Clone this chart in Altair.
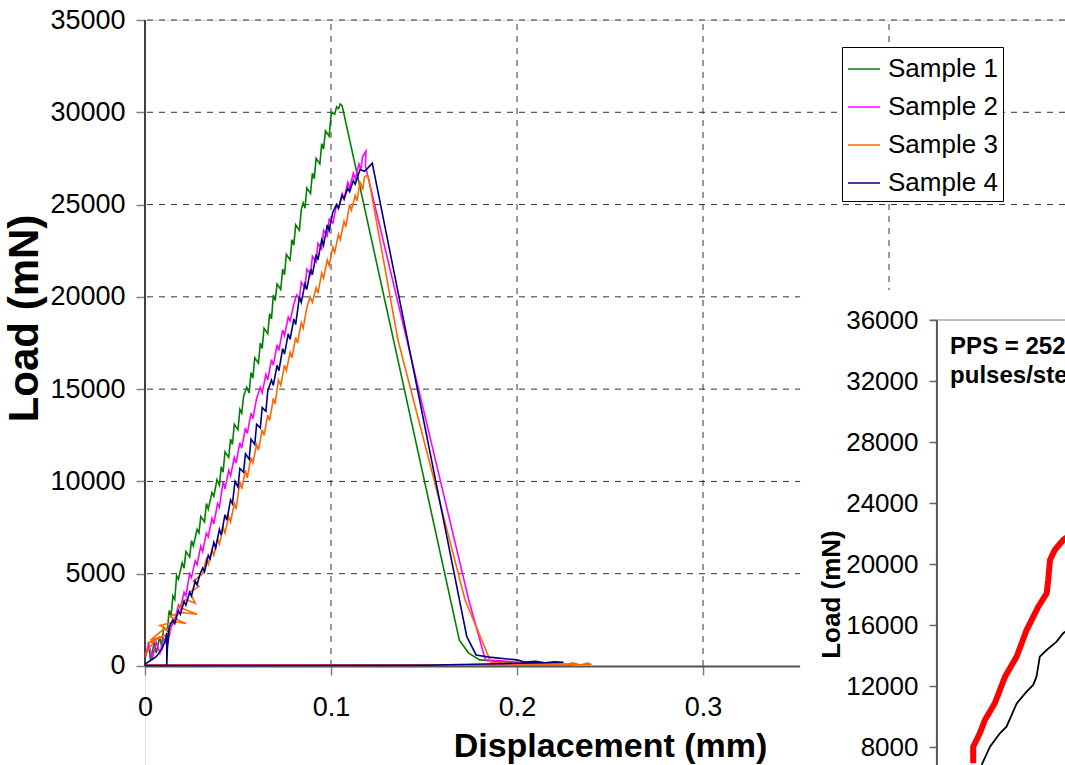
import altair as alt
import pandas as pd

FONT = "Liberation Sans"

# ---------------- main chart values ----------------
X_MAX = 0.4946          # right edge of visible plot (mm)
Y_MIN = -5364           # visible bottom of plot area (mN)
Y_MAX = 35000

x_ticks = [0, 0.1, 0.2, 0.3]
y_ticks = [0, 5000, 10000, 15000, 20000, 25000, 30000, 35000]
grid_x = [0.1, 0.2, 0.3, 0.4]
grid_y = [5000, 10000, 15000, 20000, 25000, 30000, 35000]

samples = ["Sample 1", "Sample 2", "Sample 3", "Sample 4"]
sample_colors = ["#008000", "#FF00FF", "#FF6600", "#000080"]

sample1 = [
    (0.000, 400), (0.002, 1100), (0.003, 300), (0.005, 1300), (0.006, 700), (0.008, 1600),
    (0.009, 1000), (0.010, 2100), (0.012, 1900), (0.013, 3000), (0.014, 2700), (0.015, 3800),
    (0.016, 3600), (0.017, 4900), (0.018, 4700), (0.020, 5600), (0.021, 5300), (0.022, 6200),
    (0.024, 5900), (0.025, 6800), (0.026, 6500), (0.028, 7400), (0.029, 7200), (0.030, 8100),
    (0.032, 7800), (0.033, 8800), (0.034, 8500), (0.036, 9400), (0.037, 9200), (0.0387, 10100),
    (0.040, 9800), (0.041, 10800), (0.042, 10500), (0.043, 11600), (0.045, 11300), (0.046, 12300),
    (0.047, 12000), (0.048, 13100), (0.050, 12800), (0.051, 13900), (0.052, 13700), (0.053, 14600),
    (0.0547, 15100), (0.056, 14800), (0.057, 15900), (0.058, 15600), (0.059, 16700), (0.061, 16400),
    (0.062, 17500), (0.063, 17200), (0.064, 18300), (0.066, 18000), (0.067, 19100), (0.068, 18800),
    (0.069, 20100), (0.070, 19800), (0.071, 20700), (0.073, 20400), (0.074, 21500), (0.075, 21200),
    (0.076, 22300), (0.078, 22000), (0.079, 23100), (0.080, 22800), (0.081, 23900), (0.083, 23600),
    (0.084, 24700), (0.085, 25100), (0.086, 24800), (0.087, 25900), (0.089, 25600), (0.090, 26700),
    (0.091, 26400), (0.092, 27500), (0.094, 27200), (0.095, 28300), (0.096, 28000), (0.097, 29000),
    (0.099, 28700), (0.100, 29800), (0.1005, 30000), (0.102, 29900), (0.103, 30300), (0.104, 30200),
    (0.105, 30450), (0.106, 30350),
    (0.169, 1400), (0.174, 700), (0.180, 330), (0.190, 240), (0.200, 150), (0.215, 100), (0.230, 70),
    (0.150, 60), (0.080, 50), (0.000, 40),
]

sample2 = [
    (0.000, 500), (0.002, 1200), (0.004, 400), (0.006, 1300), (0.008, 700), (0.010, 1500),
    (0.012, 1100), (0.014, 2100), (0.016, 2500), (0.018, 3300), (0.019, 3100), (0.021, 4000),
    (0.022, 3800), (0.024, 5000), (0.025, 4800), (0.027, 5700), (0.028, 5500), (0.030, 6500),
    (0.031, 6200), (0.033, 7200), (0.034, 7000), (0.036, 8000), (0.037, 7700), (0.039, 8800),
    (0.040, 8600), (0.042, 10000), (0.043, 9600), (0.045, 10600), (0.046, 10300), (0.048, 11300),
    (0.049, 11000), (0.051, 12100), (0.052, 11800), (0.054, 12900), (0.055, 12600), (0.057, 13700),
    (0.058, 13400), (0.060, 14500), (0.062, 15100), (0.063, 14800), (0.065, 15800), (0.066, 15500),
    (0.068, 16600), (0.069, 16300), (0.071, 17400), (0.072, 17100), (0.074, 18200), (0.075, 17900),
    (0.077, 18900), (0.078, 18700), (0.080, 19600), (0.0815, 20100), (0.083, 19900), (0.084, 20800),
    (0.086, 20500), (0.087, 21500), (0.089, 21200), (0.090, 22200), (0.092, 21900), (0.093, 22900),
    (0.095, 22600), (0.096, 23600), (0.098, 23300), (0.099, 24200), (0.101, 24000), (0.103, 25000),
    (0.104, 24800), (0.106, 25600), (0.107, 25300), (0.109, 26200), (0.110, 25900), (0.112, 26700),
    (0.113, 26400), (0.115, 27200), (0.116, 26900), (0.117, 27600), (0.1188, 27900), (0.1185, 27100),
    (0.174, 3600), (0.183, 330), (0.195, 250), (0.205, 150), (0.220, 100), (0.232, 80),
    (0.150, 70), (0.060, 60), (0.000, 50),
]

sample3 = [
    (0.000, 600), (0.006, 1500), (0.001, 1200), (0.012, 1700), (0.003, 1400), (0.010, 2000),
    (0.014, 1900), (0.008, 2200), (0.016, 2400), (0.022, 2300), (0.013, 2700), (0.020, 2900),
    (0.028, 2800), (0.018, 3200), (0.022, 3600), (0.027, 3400), (0.024, 4000), (0.029, 4300),
    (0.026, 4600), (0.031, 5000), (0.033, 5800), (0.034, 5500), (0.036, 6300), (0.037, 6000),
    (0.039, 6900), (0.040, 6600), (0.042, 7500), (0.043, 7200), (0.045, 8100), (0.046, 7800),
    (0.048, 8800), (0.049, 8500), (0.051, 10000), (0.052, 9600), (0.054, 10600), (0.055, 10200),
    (0.057, 11300), (0.058, 11000), (0.060, 12000), (0.061, 11700), (0.063, 12800), (0.064, 12500),
    (0.066, 13600), (0.067, 13300), (0.069, 14500), (0.070, 14200), (0.0717, 15500), (0.073, 15200),
    (0.075, 16300), (0.076, 16000), (0.078, 17000), (0.079, 16700), (0.081, 17800), (0.082, 17500),
    (0.084, 18600), (0.085, 18300), (0.087, 19400), (0.0887, 20000), (0.090, 19700), (0.092, 20500),
    (0.093, 20200), (0.095, 21300), (0.096, 21000), (0.098, 22000), (0.099, 21700), (0.101, 22700),
    (0.102, 22400), (0.104, 23400), (0.105, 23100), (0.107, 24100), (0.108, 23800), (0.110, 25000),
    (0.111, 24700), (0.113, 25500), (0.114, 25200), (0.1156, 26240), (0.117, 25800), (0.118, 26500),
    (0.1195, 26600), (0.1204, 26330),
    (0.136, 17660), (0.172, 3600), (0.186, 200), (0.200, 120), (0.215, 90),
    (0.222, 150), (0.226, 60), (0.230, 170), (0.234, 50), (0.238, 160), (0.240, 80),
    (0.150, 50), (0.050, 40), (0.000, 40),
]

sample4 = [
    (0.000, 100), (0.003, 300), (0.006, 500), (0.009, 900), (0.011, 1400), (0.0117, 1800),
    (0.0117, 60), (0.012, 900), (0.013, 2100), (0.015, 2500), (0.016, 2300), (0.018, 3000),
    (0.019, 2800), (0.021, 3500), (0.022, 3300), (0.024, 4000), (0.025, 3800), (0.027, 4600),
    (0.028, 4400), (0.0296, 5000), (0.031, 5300), (0.032, 5100), (0.034, 6000), (0.035, 5800),
    (0.037, 6700), (0.038, 6400), (0.040, 7400), (0.041, 7100), (0.043, 8200), (0.044, 7900),
    (0.046, 9000), (0.047, 8800), (0.0484, 10000), (0.050, 9700), (0.051, 10700), (0.053, 10500),
    (0.054, 11500), (0.056, 11200), (0.057, 12300), (0.059, 12000), (0.060, 13100), (0.062, 12900),
    (0.063, 14000), (0.065, 13800), (0.066, 14900), (0.068, 15500), (0.069, 15200), (0.071, 16300),
    (0.072, 16000), (0.074, 17200), (0.075, 16900), (0.077, 18000), (0.078, 17700), (0.080, 18800),
    (0.081, 18500), (0.083, 20000), (0.084, 19700), (0.086, 20700), (0.087, 20400), (0.089, 21500),
    (0.090, 21200), (0.092, 22300), (0.093, 22000), (0.095, 23100), (0.096, 22800), (0.098, 23900),
    (0.099, 23600), (0.101, 24600), (0.103, 25000), (0.104, 24800), (0.106, 25500), (0.107, 25300),
    (0.109, 25900), (0.110, 25700), (0.112, 26300), (0.113, 26100), (0.1156, 26900), (0.118, 26800),
    (0.120, 27000), (0.1222, 27240),
    (0.173, 1590), (0.178, 600), (0.185, 480), (0.195, 380), (0.200, 330), (0.204, 220),
    (0.210, 260), (0.215, 180), (0.220, 230), (0.225, 200),
    (0.150, 40), (0.050, 30), (0.000, 30),
]

# ---------------- inset values ----------------
INSET_X = [-0.264, 0.0427]
INSET_Y = [6820, 55672]
inset_ticks = [8000, 12000, 16000, 20000, 24000, 28000, 32000, 36000]

inset_red = [
    (0.0121, 6930), (0.0121, 8020), (0.0143, 8900), (0.0160, 9770), (0.0193, 10870),
    (0.0227, 12610), (0.0266, 13930), (0.0299, 15670), (0.0338, 17200), (0.0366, 18080),
    (0.0371, 18950), (0.0377, 20260), (0.0393, 20920), (0.0421, 21570), (0.0450, 22000),
]
inset_black = [
    (0.0149, 6820), (0.0177, 8020), (0.0210, 8900), (0.0232, 9330), (0.0266, 10860),
    (0.0299, 11630), (0.0321, 12070), (0.0332, 12610), (0.0343, 13930), (0.0366, 14360),
    (0.0399, 14910), (0.0421, 15460), (0.0450, 15900),
]
inset_text = ["PPS = 2520", "pulses/step"]
inset_text_y = [33770, 31870]

# ---------------- frames ----------------
rows = []
for name, pts in zip(samples, [sample1, sample2, sample3, sample4]):
    for i, (xv, yv) in enumerate(pts):
        rows.append({"x": xv, "y": yv, "sample": name, "i": i})
main_df = pd.DataFrame(rows)


def xs():
    return alt.Scale(domain=[0, X_MAX], nice=False, zero=False)


def ys():
    return alt.Scale(domain=[Y_MIN, Y_MAX], nice=False, zero=False)


def ixs():
    return alt.Scale(domain=INSET_X, nice=False, zero=False)


def iys():
    return alt.Scale(domain=INSET_Y, nice=False, zero=False)


hgrid = alt.Chart(pd.DataFrame({"y": grid_y})).mark_rule(
    color="#333333", strokeWidth=1, strokeDash=[6, 6]
).encode(y=alt.Y("y:Q", scale=ys(), axis=None))

vgrid = alt.Chart(pd.DataFrame({"x": grid_x, "y0": [0] * 4, "y1": [Y_MAX] * 4})).mark_rule(
    color="#333333", strokeWidth=1, strokeDash=[6, 6]
).encode(
    x=alt.X("x:Q", scale=xs(), axis=None),
    y=alt.Y("y0:Q", scale=ys(), axis=None),
    y2="y1:Q",
)

yaxis_line = alt.Chart(pd.DataFrame({"x": [0], "y0": [0], "y1": [Y_MAX]})).mark_rule(
    color="#404040", strokeWidth=2
).encode(
    x=alt.X("x:Q", scale=xs(), axis=None),
    y=alt.Y("y0:Q", scale=ys(), axis=None),
    y2="y1:Q",
)

lines = alt.Chart(main_df).mark_line(strokeWidth=1.6).encode(
    x=alt.X("x:Q", scale=xs(), axis=alt.Axis(
        orient="bottom", values=x_ticks, format=".1~f", offset=-99, grid=False, labelFlush=False,
        domainColor="#555555", domainWidth=2, tickColor="#808080", tickSize=9, tickWidth=1.5,
        labelFont=FONT, labelFontSize=27, labelColor="black", labelPadding=19,
        title="Displacement (mm)", titleFont=FONT, titleFontSize=34, titleFontWeight="bold",
        titleColor="black", titleX=465, titleY=90, titleBaseline="alphabetic",
    )),
    y=alt.Y("y:Q", scale=ys(), axis=alt.Axis(
        orient="left", values=y_ticks, format="d", grid=False, domain=False, labelFlush=False,
        tickColor="#808080", tickSize=9, tickWidth=1.5,
        labelFont=FONT, labelFontSize=27, labelColor="black", labelPadding=11,
        title="Load (mN)", titleFont=FONT, titleFontSize=42, titleFontWeight="bold",
        titleColor="black", titleAngle=270, titleX=-121, titleY=298,
        titleBaseline="middle", titleAlign="center",
    )),
    color=alt.Color("sample:N", scale=alt.Scale(domain=samples, range=sample_colors), legend=alt.Legend(
        orient="none", legendX=697, legendY=27, title=None,
        strokeColor="black", fillColor="white", padding=5,
        symbolType="stroke", symbolSize=1024, symbolStrokeWidth=1.5,
        labelFont=FONT, labelFontSize=26, labelColor="black", labelOffset=7, rowPadding=8,
    )),
    order="i:Q",
)

cover = alt.Chart(pd.DataFrame({"x0": [0.3522], "x1": [X_MAX], "y0": [Y_MIN], "y1": [20372]})).mark_rect(
    color="white"
).encode(
    x=alt.X("x0:Q", scale=xs(), axis=None), x2="x1:Q",
    y=alt.Y("y0:Q", scale=ys(), axis=None), y2="y1:Q",
)

red_df = pd.DataFrame({"x": [p[0] for p in inset_red], "y": [p[1] for p in inset_red],
                       "i": list(range(len(inset_red)))})
black_df = pd.DataFrame({"x": [p[0] for p in inset_black], "y": [p[1] for p in inset_black],
                         "i": list(range(len(inset_black)))})

red = alt.Chart(red_df).mark_line(color="#FF0000", strokeWidth=6).encode(
    x=alt.X("x:Q", scale=ixs(), axis=None),
    y=alt.Y("y:Q", scale=iys(), axis=alt.Axis(
        orient="left", offset=-792, values=inset_ticks, format="d", grid=False, domain=False,
        labelFlush=False, tickColor="#666666", tickSize=8, tickWidth=1.5, zindex=1,
        labelFont=FONT, labelFontSize=26, labelColor="black", labelPadding=11,
        title="Load (mN)", titleFont=FONT, titleFontSize=26, titleFontWeight="bold",
        titleColor="black", titleAngle=270, titleX=-106, titleY=574,
        titleBaseline="middle", titleAlign="center",
    )),
    order="i:Q",
)
black = alt.Chart(black_df).mark_line(color="black", strokeWidth=1.8).encode(
    x=alt.X("x:Q", scale=ixs(), axis=None),
    y=alt.Y("y:Q", scale=iys(), axis=None),
    order="i:Q",
)
inset_axis_line = alt.Chart(pd.DataFrame({"x": [0], "y0": [INSET_Y[0]], "y1": [36000]})).mark_rule(
    color="#555555", strokeWidth=2
).encode(
    x=alt.X("x:Q", scale=ixs(), axis=None),
    y=alt.Y("y0:Q", scale=iys(), axis=None), y2="y1:Q",
)
inset_top = alt.Chart(pd.DataFrame({"x0": [-0.0023], "x1": [INSET_X[1]], "y": [36000]})).mark_rule(
    color="#808080", strokeWidth=1
).encode(
    x=alt.X("x0:Q", scale=ixs(), axis=None), x2="x1:Q",
    y=alt.Y("y:Q", scale=iys(), axis=None),
)
label_df = pd.DataFrame({"x": [0.0044, 0.0044], "y": inset_text_y, "t": inset_text})
inset_label = alt.Chart(label_df).mark_text(
    align="left", baseline="alphabetic", font=FONT, fontSize=24, fontWeight="bold", color="black"
).encode(
    x=alt.X("x:Q", scale=ixs(), axis=None),
    y=alt.Y("y:Q", scale=iys(), axis=None),
    text="t:N",
)

chart = alt.layer(
    hgrid, vgrid, yaxis_line, lines, cover,
    red, black, inset_axis_line, inset_top, inset_label,
).resolve_scale(
    x="independent", y="independent"
).properties(
    width=920, height=745,
    padding={"left": 145, "top": 20, "right": 0, "bottom": 0},
    autosize=alt.AutoSizeParams(type="none"),
    background="white",
).configure_view(stroke=None).configure(font=FONT)

chart.save("out.html", embed_options={"renderer": "svg", "actions": False})
